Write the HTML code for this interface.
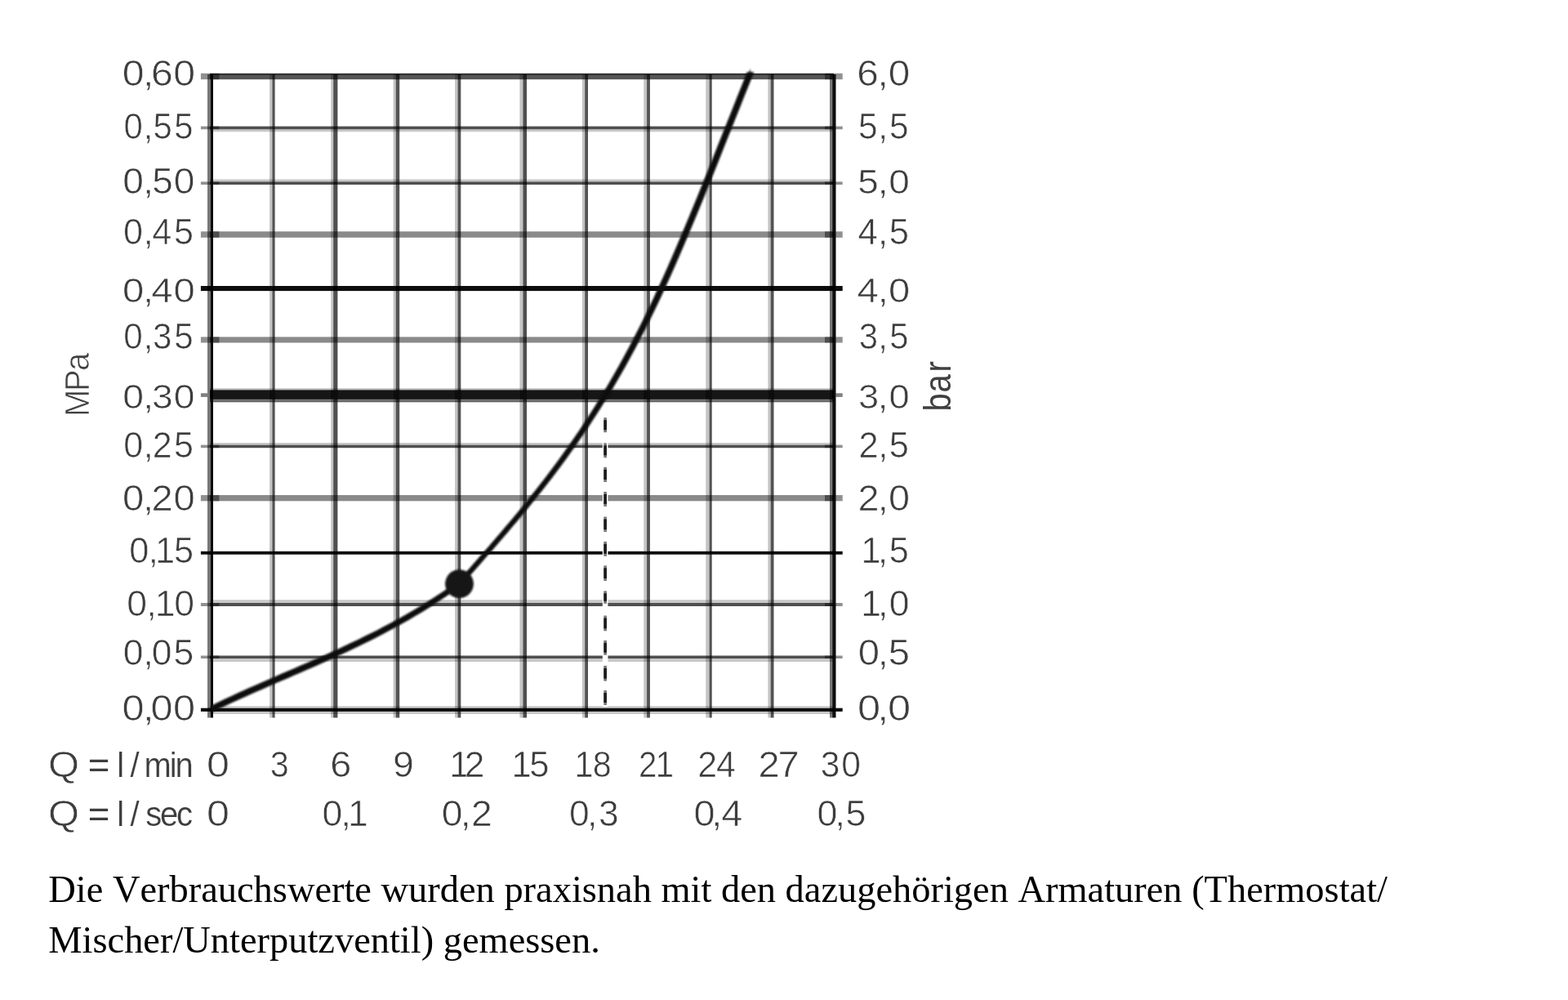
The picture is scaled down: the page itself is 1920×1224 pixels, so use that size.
<!DOCTYPE html>
<html lang="de">
<head>
<meta charset="utf-8">
<title>Durchflussdiagramm</title>
<style>
html,body{margin:0;padding:0;background:#fff;}
body{width:1920px;height:1224px;position:relative;overflow:hidden;}
#chart{position:absolute;left:0;top:0;width:1920px;height:1224px;display:block;}
.m{mix-blend-mode:multiply;}
#note{position:absolute;left:59.3px;top:1057.9px;margin:0;width:1800px;
  font-family:"Liberation Serif",serif;font-size:46.43px;line-height:61.667px;color:#000;white-space:nowrap;font-kerning:none;}
</style>
</head>
<body>
<svg id="chart" width="1920" height="1224" viewBox="0 0 1920 1224" role="img" aria-label="Durchflussdiagramm">
<defs>
<filter id="soft" x="0" y="0" width="1920" height="1224" filterUnits="userSpaceOnUse"><feGaussianBlur stdDeviation="0.45"/></filter>
<filter id="soft2" x="0" y="0" width="1920" height="1224" filterUnits="userSpaceOnUse"><feGaussianBlur stdDeviation="1.1"/></filter>
<filter id="soft3" x="0" y="0" width="1920" height="1224" filterUnits="userSpaceOnUse"><feGaussianBlur stdDeviation="0.7"/></filter>
</defs>
<g filter="url(#soft)">
<g id="grid" style="isolation:isolate">
<rect x="230" y="80" width="820" height="810" fill="#fff"/>
<rect class="m" x="257.0" y="89.8" width="764.0" height="2.2" fill="#333"/>
<rect class="m" x="257.0" y="92.0" width="764.0" height="5.2" fill="#555"/>
<rect class="m" x="257.0" y="154.6" width="764.0" height="3.7" fill="#505050"/>
<rect class="m" x="257.0" y="158.3" width="764.0" height="3.0" fill="#c8c8c8"/>
<rect class="m" x="257.0" y="219.5" width="764.0" height="2.9" fill="#c8c8c8"/>
<rect class="m" x="257.0" y="222.4" width="764.0" height="3.6" fill="#505050"/>
<rect class="m" x="257.0" y="283.3" width="764.0" height="7.5" fill="#8a8a8a"/>
<rect class="m" x="257.0" y="350.0" width="764.0" height="6.1" fill="#0c0c0c"/>
<rect class="m" x="257.0" y="412.4" width="764.0" height="7.1" fill="#8a8a8a"/>
<rect class="m" x="257.0" y="475.3" width="764.0" height="1.7" fill="#bbb"/>
<rect class="m" x="257.0" y="477.3" width="764.0" height="11.6" fill="#141414"/>
<rect class="m" x="257.0" y="489.2" width="764.0" height="3.1" fill="#666"/>
<rect class="m" x="257.0" y="542.0" width="764.0" height="2.6" fill="#c8c8c8"/>
<rect class="m" x="257.0" y="544.6" width="764.0" height="3.6" fill="#505050"/>
<rect class="m" x="257.0" y="606.0" width="764.0" height="7.3" fill="#8a8a8a"/>
<rect class="m" x="257.0" y="674.8" width="764.0" height="3.9" fill="#0c0c0c"/>
<rect class="m" x="257.0" y="734.2" width="764.0" height="3.8" fill="#c8c8c8"/>
<rect class="m" x="257.0" y="738.0" width="764.0" height="4.0" fill="#505050"/>
<rect class="m" x="257.0" y="802.5" width="764.0" height="3.5" fill="#505050"/>
<rect class="m" x="257.0" y="806.0" width="764.0" height="4.0" fill="#c8c8c8"/>
<rect class="m" x="257.0" y="864.3" width="764.0" height="2.1" fill="#c8c8c8"/>
<rect class="m" x="257.0" y="866.7" width="764.0" height="4.2" fill="#0c0c0c"/>
<rect class="m" x="257.0" y="870.9" width="764.0" height="3.1" fill="#c8c8c8"/>
<rect class="m" x="254.0" y="91.0" width="3.7" height="787.5" fill="#777"/>
<rect class="m" x="257.7" y="91.0" width="3.3" height="787.5" fill="#0c0c0c"/>
<rect class="m" x="330.1" y="91.0" width="3.3" height="787.5" fill="#c4c4c4"/>
<rect class="m" x="333.4" y="91.0" width="3.2" height="787.5" fill="#525252"/>
<rect class="m" x="405.2" y="91.0" width="3.0" height="787.5" fill="#c4c4c4"/>
<rect class="m" x="408.2" y="91.0" width="5.2" height="787.5" fill="#505050"/>
<rect class="m" x="481.6" y="91.0" width="3.1" height="787.5" fill="#c4c4c4"/>
<rect class="m" x="484.7" y="91.0" width="4.5" height="787.5" fill="#525252"/>
<rect class="m" x="557.1" y="91.0" width="3.4" height="787.5" fill="#c4c4c4"/>
<rect class="m" x="560.5" y="91.0" width="3.8" height="787.5" fill="#525252"/>
<rect class="m" x="636.4" y="91.0" width="4.0" height="787.5" fill="#c4c4c4"/>
<rect class="m" x="640.4" y="91.0" width="4.6" height="787.5" fill="#505050"/>
<rect class="m" x="712.9" y="91.0" width="3.3" height="787.5" fill="#c4c4c4"/>
<rect class="m" x="716.2" y="91.0" width="3.8" height="787.5" fill="#525252"/>
<rect class="m" x="788.3" y="91.0" width="3.8" height="787.5" fill="#c4c4c4"/>
<rect class="m" x="792.1" y="91.0" width="3.8" height="787.5" fill="#525252"/>
<rect class="m" x="864.3" y="91.0" width="4.3" height="787.5" fill="#c4c4c4"/>
<rect class="m" x="868.6" y="91.0" width="3.1" height="787.5" fill="#525252"/>
<rect class="m" x="940.4" y="91.0" width="3.3" height="787.5" fill="#c4c4c4"/>
<rect class="m" x="943.7" y="91.0" width="3.8" height="787.5" fill="#525252"/>
<rect class="m" x="1016.0" y="91.0" width="3.2" height="787.5" fill="#777"/>
<rect class="m" x="1019.2" y="91.0" width="4.3" height="787.5" fill="#0c0c0c"/>
<rect class="m" x="245.9" y="89.8" width="22.5" height="7.4" fill="#909090"/>
<rect class="m" x="1010.0" y="89.8" width="21.7" height="7.4" fill="#909090"/>
<rect class="m" x="245.9" y="154.6" width="22.5" height="3.7" fill="#909090"/>
<rect class="m" x="1010.0" y="154.6" width="21.7" height="3.7" fill="#909090"/>
<rect class="m" x="245.9" y="222.4" width="22.5" height="3.6" fill="#909090"/>
<rect class="m" x="1010.0" y="222.4" width="21.7" height="3.6" fill="#909090"/>
<rect class="m" x="245.9" y="283.3" width="22.5" height="7.5" fill="#909090"/>
<rect class="m" x="1010.0" y="283.3" width="21.7" height="7.5" fill="#909090"/>
<rect class="m" x="245.9" y="350.0" width="13.1" height="6.1" fill="#0c0c0c"/>
<rect class="m" x="1019.0" y="350.0" width="12.7" height="6.1" fill="#0c0c0c"/>
<rect class="m" x="245.9" y="412.4" width="22.5" height="7.1" fill="#909090"/>
<rect class="m" x="1010.0" y="412.4" width="21.7" height="7.1" fill="#909090"/>
<rect class="m" x="245.9" y="481.3" width="8.1" height="4.6" fill="#808080"/>
<rect class="m" x="1023.3" y="481.3" width="8.4" height="4.6" fill="#808080"/>
<rect class="m" x="245.9" y="544.6" width="22.5" height="3.6" fill="#909090"/>
<rect class="m" x="1010.0" y="544.6" width="21.7" height="3.6" fill="#909090"/>
<rect class="m" x="245.9" y="606.0" width="22.5" height="7.3" fill="#909090"/>
<rect class="m" x="1010.0" y="606.0" width="21.7" height="7.3" fill="#909090"/>
<rect class="m" x="245.9" y="674.8" width="13.1" height="3.9" fill="#0c0c0c"/>
<rect class="m" x="1019.0" y="674.8" width="12.7" height="3.9" fill="#0c0c0c"/>
<rect class="m" x="245.9" y="738.0" width="22.5" height="4.0" fill="#909090"/>
<rect class="m" x="1010.0" y="738.0" width="21.7" height="4.0" fill="#909090"/>
<rect class="m" x="245.9" y="802.5" width="22.5" height="3.5" fill="#909090"/>
<rect class="m" x="1010.0" y="802.5" width="21.7" height="3.5" fill="#909090"/>
<rect class="m" x="245.9" y="866.7" width="13.1" height="4.2" fill="#0c0c0c"/>
<rect class="m" x="1019.0" y="866.7" width="12.7" height="4.2" fill="#0c0c0c"/>
</g>
<rect x="737.8" y="508" width="6.6" height="357" fill="#fff"/>
<rect x="739.3" y="511.2" width="3.6" height="18.0" fill="#777"/>
<rect x="739.3" y="514.2" width="3.6" height="12.0" fill="#1c1c1c"/>
<rect x="739.3" y="542.3" width="3.6" height="18.0" fill="#777"/>
<rect x="739.3" y="545.3" width="3.6" height="12.0" fill="#1c1c1c"/>
<rect x="739.3" y="571.7" width="3.6" height="18.3" fill="#777"/>
<rect x="739.3" y="574.7" width="3.6" height="12.3" fill="#1c1c1c"/>
<rect x="739.3" y="601.9" width="3.6" height="18.0" fill="#777"/>
<rect x="739.3" y="604.9" width="3.6" height="12.0" fill="#1c1c1c"/>
<rect x="739.3" y="632.5" width="3.6" height="18.5" fill="#777"/>
<rect x="739.3" y="635.5" width="3.6" height="12.5" fill="#1c1c1c"/>
<rect x="739.3" y="662.9" width="3.6" height="17.9" fill="#777"/>
<rect x="739.3" y="665.9" width="3.6" height="11.9" fill="#1c1c1c"/>
<rect x="739.3" y="692.3" width="3.6" height="18.7" fill="#777"/>
<rect x="739.3" y="695.3" width="3.6" height="12.7" fill="#1c1c1c"/>
<rect x="739.3" y="723.3" width="3.6" height="15.5" fill="#777"/>
<rect x="739.3" y="726.3" width="3.6" height="9.5" fill="#1c1c1c"/>
<rect x="739.3" y="753.5" width="3.6" height="18.8" fill="#777"/>
<rect x="739.3" y="756.5" width="3.6" height="12.8" fill="#1c1c1c"/>
<rect x="739.3" y="783.8" width="3.6" height="17.9" fill="#777"/>
<rect x="739.3" y="786.8" width="3.6" height="11.9" fill="#1c1c1c"/>
<rect x="739.3" y="814.8" width="3.6" height="18.8" fill="#777"/>
<rect x="739.3" y="817.8" width="3.6" height="12.8" fill="#1c1c1c"/>
<rect x="739.3" y="845" width="3.6" height="18.0" fill="#777"/>
<rect x="739.3" y="848" width="3.6" height="12.0" fill="#1c1c1c"/>
</g><g filter="url(#soft2)">
<polygon points="259.4,863.2 267.2,859.5 274.9,855.8 282.7,852.2 290.5,848.6 298.3,845.1 306.0,841.6 313.8,838.2 321.6,834.8 329.3,831.4 337.1,828.0 344.9,824.6 352.7,821.3 360.4,817.9 368.2,814.6 376.0,811.2 383.7,807.8 391.5,804.4 399.3,800.9 407.1,797.4 414.8,793.9 422.6,790.3 430.4,786.6 438.2,782.9 445.9,779.1 453.7,775.3 461.5,771.4 469.2,767.3 477.0,763.2 484.8,759.0 492.6,754.7 500.3,750.3 508.1,745.7 515.9,741.1 523.6,736.3 531.4,731.3 539.2,726.2 547.0,721.0 554.7,715.6 562.5,710.1 562.5,710.1 568.5,703.3 574.6,696.4 580.6,689.6 586.7,682.7 592.7,675.8 598.8,668.9 604.8,662.0 610.8,655.0 616.9,647.9 622.9,640.8 629.0,633.7 635.0,626.4 641.1,619.1 647.1,611.7 653.1,604.2 659.2,596.6 665.2,588.9 671.3,581.1 677.3,573.2 683.3,565.1 689.4,556.9 695.4,548.5 701.5,539.9 707.5,531.2 713.6,522.4 719.6,513.3 725.6,504.0 731.7,494.5 737.7,484.8 743.8,474.9 749.8,464.7 755.9,454.3 761.9,443.7 767.9,432.7 774.0,421.5 780.0,410.0 786.1,398.3 792.1,386.2 798.2,373.8 804.2,361.1 810.2,348.0 816.3,334.7 822.3,321.1 828.4,307.3 834.4,293.2 840.4,278.9 846.5,264.5 852.5,249.9 858.6,235.1 864.6,220.2 870.7,205.2 876.7,190.1 882.7,175.0 888.8,159.8 894.8,144.6 900.9,129.4 906.9,114.2 913.0,99.1 919.0,84.0 919.0,92.6 913.0,107.7 906.9,122.8 900.9,138.0 894.8,153.2 888.8,168.4 882.7,183.6 876.7,198.7 870.7,213.8 864.6,228.8 858.6,243.7 852.5,258.5 846.5,273.1 840.4,287.5 834.4,301.8 828.4,315.9 822.3,329.7 816.3,343.3 810.2,356.6 804.2,369.7 798.2,382.4 792.1,394.8 786.1,406.9 780.0,418.6 774.0,430.1 767.9,441.3 761.9,452.3 755.9,462.9 749.8,473.3 743.8,483.5 737.7,493.4 731.7,503.1 725.6,512.6 719.6,521.9 713.6,531.0 707.5,539.8 701.5,548.5 695.4,557.1 689.4,565.5 683.3,573.7 677.3,581.8 671.3,589.7 665.2,597.5 659.2,605.2 653.1,612.8 647.1,620.3 641.1,627.7 635.0,635.0 629.0,642.3 622.9,649.4 616.9,656.5 610.8,663.6 604.8,670.6 598.8,677.5 592.7,684.4 586.7,691.3 580.6,698.2 574.6,705.0 568.5,711.9 562.5,718.7 562.5,718.7 554.7,724.2 547.0,729.6 539.2,734.8 531.4,739.9 523.6,744.9 515.9,749.7 508.1,754.3 500.3,758.9 492.6,763.3 484.8,767.6 477.0,771.8 469.2,775.9 461.5,780.0 453.7,783.9 445.9,787.7 438.2,791.5 430.4,795.2 422.6,798.9 414.8,802.5 407.1,806.0 399.3,809.5 391.5,813.0 383.7,816.4 376.0,819.8 368.2,823.2 360.4,826.5 352.7,829.9 344.9,833.2 337.1,836.6 329.3,840.0 321.6,843.4 313.8,846.8 306.0,850.2 298.3,853.7 290.5,857.2 282.7,860.8 274.9,864.4 267.2,868.1 259.4,871.8" fill="#111"/>
<polygon points="255.1,867.5 262.9,863.8 270.6,860.1 278.4,856.5 286.2,852.9 294.0,849.4 301.7,845.9 309.5,842.5 317.3,839.1 325.0,835.7 332.8,832.3 340.6,828.9 348.4,825.6 356.1,822.2 363.9,818.9 371.7,815.5 379.4,812.1 387.2,808.7 395.0,805.2 402.8,801.7 410.5,798.2 418.3,794.6 426.1,790.9 433.9,787.2 441.6,783.4 449.4,779.6 457.2,775.7 464.9,771.6 472.7,767.5 480.5,763.3 488.3,759.0 496.0,754.6 503.8,750.0 511.6,745.4 519.3,740.6 527.1,735.6 534.9,730.5 542.7,725.3 550.4,719.9 558.2,714.4 558.2,714.4 564.2,707.6 570.3,700.7 576.3,693.9 582.4,687.0 588.4,680.1 594.5,673.2 600.5,666.3 606.5,659.3 612.6,652.2 618.6,645.1 624.7,638.0 630.7,630.7 636.8,623.4 642.8,616.0 648.8,608.5 654.9,600.9 660.9,593.2 667.0,585.4 673.0,577.5 679.0,569.4 685.1,561.2 691.1,552.8 697.2,544.2 703.2,535.5 709.3,526.7 715.3,517.6 721.3,508.3 727.4,498.8 733.4,489.1 739.5,479.2 745.5,469.0 751.6,458.6 757.6,448.0 763.6,437.0 769.7,425.8 775.7,414.3 781.8,402.6 787.8,390.5 793.9,378.1 799.9,365.4 805.9,352.3 812.0,339.0 818.0,325.4 824.1,311.6 830.1,297.5 836.1,283.2 842.2,268.8 848.2,254.2 854.3,239.4 860.3,224.5 866.4,209.5 872.4,194.4 878.4,179.3 884.5,164.1 890.5,148.9 896.6,133.7 902.6,118.5 908.7,103.4 914.7,88.3 923.3,88.3 917.3,103.4 911.2,118.5 905.2,133.7 899.1,148.9 893.1,164.1 887.0,179.3 881.0,194.4 875.0,209.5 868.9,224.5 862.9,239.4 856.8,254.2 850.8,268.8 844.7,283.2 838.7,297.5 832.7,311.6 826.6,325.4 820.6,339.0 814.5,352.3 808.5,365.4 802.5,378.1 796.4,390.5 790.4,402.6 784.3,414.3 778.3,425.8 772.2,437.0 766.2,448.0 760.2,458.6 754.1,469.0 748.1,479.2 742.0,489.1 736.0,498.8 729.9,508.3 723.9,517.6 717.9,526.7 711.8,535.5 705.8,544.2 699.7,552.8 693.7,561.2 687.6,569.4 681.6,577.5 675.6,585.4 669.5,593.2 663.5,600.9 657.4,608.5 651.4,616.0 645.4,623.4 639.3,630.7 633.3,638.0 627.2,645.1 621.2,652.2 615.1,659.3 609.1,666.3 603.1,673.2 597.0,680.1 591.0,687.0 584.9,693.9 578.9,700.7 572.8,707.6 566.8,714.4 566.8,714.4 559.0,719.9 551.3,725.3 543.5,730.5 535.7,735.6 527.9,740.6 520.2,745.4 512.4,750.0 504.6,754.6 496.9,759.0 489.1,763.3 481.3,767.5 473.5,771.6 465.8,775.7 458.0,779.6 450.2,783.4 442.5,787.2 434.7,790.9 426.9,794.6 419.1,798.2 411.4,801.7 403.6,805.2 395.8,808.7 388.0,812.1 380.3,815.5 372.5,818.9 364.7,822.2 357.0,825.6 349.2,828.9 341.4,832.3 333.6,835.7 325.9,839.1 318.1,842.5 310.3,845.9 302.6,849.4 294.8,852.9 287.0,856.5 279.2,860.1 271.5,863.8 263.7,867.5" fill="#111"/>
<circle cx="562.5" cy="714.6" r="17.4" fill="#141414"/>
</g><g filter="url(#soft3)">
<g id="lab" font-family='"Liberation Sans", sans-serif' font-size="42" fill="#3c3c3c" stroke="#fff" stroke-width="0.6">
<text transform="matrix(1.1466 0 0 1.0442 0 105.10)" x="130.61 152.63 161.37 185.12">0,60</text>
<text transform="matrix(0.9988 0 0 1.0442 0 169.60)" x="151.64 176.04 187.62 213.60">0,55</text>
<text transform="matrix(1.0962 0 0 1.0340 0 237.10)" x="137.14 159.90 169.91 194.15">0,50</text>
<text transform="matrix(1.0277 0 0 1.0442 0 298.60)" x="147.05 170.93 181.25 207.27">0,45</text>
<text transform="matrix(1.1251 0 0 1.0340 0 370.40)" x="133.32 155.65 164.57 188.87">0,40</text>
<text transform="matrix(1.0056 0 0 1.0510 0 427.40)" x="150.54 174.81 186.09 212.08">0,35</text>
<text transform="matrix(1.1030 0 0 1.0306 0 499.70)" x="136.23 158.88 168.64 192.89">0,30</text>
<text transform="matrix(1.0258 0 0 1.0544 0 560.40)" x="147.35 171.26 181.99 207.68">0,25</text>
<text transform="matrix(1.1232 0 0 1.0442 0 624.70)" x="133.57 155.92 165.19 189.22">0,20</text>
<text transform="matrix(1.0323 0 0 1.0408 0 689.10)" x="153.38 175.97 184.09 206.31">0,15</text>
<text transform="matrix(1.0600 0 0 1.0442 0 753.70)" x="146.47 169.33 178.95 201.19">0,10</text>
<text transform="matrix(1.0607 0 0 1.0544 0 814.40)" x="142.12 165.44 175.07 200.46">0,05</text>
<text transform="matrix(1.1581 0 0 1.0442 0 882.40)" x="129.20 151.05 159.38 183.17">0,00</text>
<text transform="matrix(1.1346 0 0 1.0442 0 105.10)" x="924.80 947.05 958.71">6,0</text>
<text transform="matrix(1.0119 0 0 1.0442 0 169.60)" x="1038.73 1062.61 1076.19">5,5</text>
<text transform="matrix(1.0937 0 0 1.0340 0 237.10)" x="960.17 982.72 995.03">5,0</text>
<text transform="matrix(1.0411 0 0 1.0442 0 298.60)" x="1009.07 1032.67 1045.70">4,5</text>
<text transform="matrix(1.1229 0 0 1.0340 0 370.40)" x="934.72 957.04 968.88">4,0</text>
<text transform="matrix(0.9969 0 0 1.0510 0 427.40)" x="1055.13 1078.67 1092.54">3,5</text>
<text transform="matrix(1.0787 0 0 1.0306 0 499.70)" x="974.25 996.45 1009.01">3,0</text>
<text transform="matrix(1.0335 0 0 1.0544 0 560.40)" x="1017.30 1040.32 1053.48">2,5</text>
<text transform="matrix(1.1153 0 0 1.0442 0 624.70)" x="941.82 963.61 975.57">2,0</text>
<text transform="matrix(1.0317 0 0 1.0408 0 689.10)" x="1022.18 1042.07 1055.27">1,5</text>
<text transform="matrix(1.0600 0 0 1.0442 0 753.70)" x="994.61 1014.14 1027.03">1,0</text>
<text transform="matrix(1.1233 0 0 1.0544 0 814.40)" x="935.52 956.71 968.33">0,5</text>
<text transform="matrix(1.2051 0 0 1.0442 0 882.40)" x="871.23 891.39 902.02">0,0</text>
<text transform="matrix(1.1953 0 0 1.0510 0 950.60)" x="211.57">0</text>
<text transform="matrix(0.9864 0 0 1.0510 0 950.60)" x="335.32">3</text>
<text transform="matrix(1.1145 0 0 1.0510 0 950.60)" x="362.64">6</text>
<text transform="matrix(1.1044 0 0 1.0510 0 950.60)" x="435.50">9</text>
<text transform="matrix(1.0559 0 0 1.0510 0 950.60)" x="521.20 538.67">12</text>
<text transform="matrix(1.0417 0 0 1.0510 0 950.60)" x="601.45 622.32">15</text>
<text transform="matrix(0.9821 0 0 1.0510 0 950.60)" x="716.33 739.05">18</text>
<text transform="matrix(0.9576 0 0 1.0510 0 950.60)" x="816.65 838.42">21</text>
<text transform="matrix(1.0229 0 0 1.0510 0 950.60)" x="835.13 857.48">24</text>
<text transform="matrix(1.1206 0 0 1.0510 0 950.60)" x="828.59 849.97">27</text>
<text transform="matrix(1.0155 0 0 1.0510 0 950.60)" x="989.48 1014.50">30</text>
<text transform="matrix(1.1953 0 0 1.0442 0 1011.20)" x="211.57">0</text>
<text transform="matrix(1.0600 0 0 1.0442 0 1011.20)" x="372.27 393.86 401.88">0,1</text>
<text transform="matrix(1.1007 0 0 1.0442 0 1011.20)" x="491.32 512.19 524.27">0,2</text>
<text transform="matrix(1.0569 0 0 1.0442 0 1011.20)" x="659.41 680.33 693.52">0,3</text>
<text transform="matrix(1.1156 0 0 1.0442 0 1011.20)" x="761.45 780.91 791.84">0,4</text>
<text transform="matrix(1.0670 0 0 1.0442 0 1011.20)" x="937.63 958.27 970.46">0,5</text>
<text transform="matrix(1 0 0 1.0510 0 950.60)"><tspan x="59.04" textLength="38.10" lengthAdjust="spacingAndGlyphs">Q</tspan> <tspan x="107.68" textLength="26.63" lengthAdjust="spacingAndGlyphs" stroke-width="0">=</tspan> <tspan font-size="40" stroke-width="0.2" x="143.20 159.50 176.60 207.72 214.41">l/min</tspan></text>
<text transform="matrix(1 0 0 1.0442 0 1011.20)"><tspan x="59.04" textLength="38.10" lengthAdjust="spacingAndGlyphs">Q</tspan> <tspan x="107.68" textLength="26.63" lengthAdjust="spacingAndGlyphs" stroke-width="0">=</tspan> <tspan font-size="40" stroke-width="0.2" x="143.20 159.50 178.20 196.00 216.05">l/sec</tspan></text>
<text font-size="40" fill="#404040" stroke-width="0.7" transform="translate(108.6 510.0) rotate(-90) scale(1 1.0435)" x="-0.05 31.00 56.05">MPa</text>
<text font-size="40" fill="#404040" stroke-width="0" transform="translate(1163.8 499.6) rotate(-90) scale(1 1.1507)" x="-3.85 19.00 44.20">bar</text>
</g>
</g>
</svg>
<p id="note">Die Verbrauchswerte wurden praxisnah mit den dazugehörigen Armaturen (Thermostat/<br>Mischer/Unterputzventil) gemessen.</p>
</body>
</html>
